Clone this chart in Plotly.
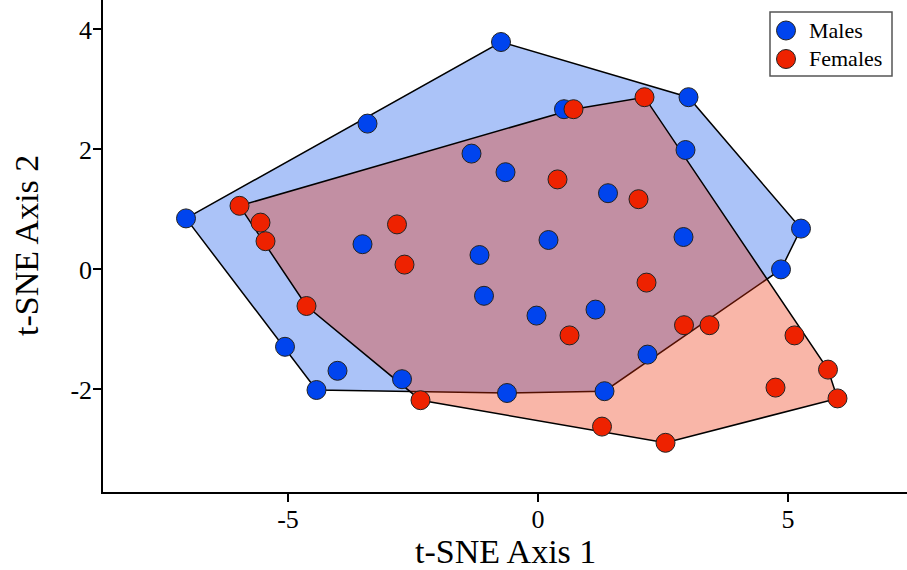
import plotly.graph_objects as go

# t-SNE coordinates
male_x = [-7.04, -3.41, -0.74, 3.01, 0.52, -1.33, -0.65, 1.40, 2.95, 2.91, 5.26, 4.86, -3.51,
          -1.17, 0.21, -1.08, -0.03, 1.15, 2.19, 1.33, -0.62, -2.72, -4.01, -4.43, -5.06]
male_y = [0.85, 2.43, 3.79, 2.87, 2.67, 1.93, 1.62, 1.27, 1.99, 0.54, 0.68, 0.00, 0.42,
          0.24, 0.49, -0.44, -0.77, -0.67, -1.42, -2.03, -2.06, -1.83, -1.69, -2.01, -1.29]
female_x = [-5.97, -5.55, -5.45, -2.82, -2.67, 0.71, 2.13, 0.39, 2.01, -4.63, -2.35, 2.17,
            0.63, 2.92, 3.43, 5.13, 5.80, 4.75, 5.99, 1.28, 2.55]
female_y = [1.06, 0.78, 0.47, 0.75, 0.08, 2.67, 2.87, 1.50, 1.17, -0.61, -2.18, -0.22,
            -1.10, -0.93, -0.93, -1.10, -1.67, -1.97, -2.15, -2.62, -2.89]

x_ticks = [-5, 0, 5]
y_ticks = [-2, 0, 2, 4]
legend_labels = ["Males", "Females"]


def convex_hull(xs, ys):
    pts = sorted(set(zip(xs, ys)))

    def cross(o, a, b):
        return (a[0] - o[0]) * (b[1] - o[1]) - (a[1] - o[1]) * (b[0] - o[0])

    lower, upper = [], []
    for p in pts:
        while len(lower) >= 2 and cross(lower[-2], lower[-1], p) <= 0:
            lower.pop()
        lower.append(p)
    for p in reversed(pts):
        while len(upper) >= 2 and cross(upper[-2], upper[-1], p) <= 0:
            upper.pop()
        upper.append(p)
    hull = lower[:-1] + upper[:-1]
    hull.append(hull[0])
    return [p[0] for p in hull], [p[1] for p in hull]


mhx, mhy = convex_hull(male_x, male_y)
fhx, fhy = convex_hull(female_x, female_y)

BLUE = "#0044EE"
RED = "#EE2200"
EDGE = "#222222"
FONT = "Liberation Serif"
W, H = 907, 570
ML, MR, MT, MB = 103, 0, 0, 78
PW, PH = W - ML - MR, H - MT - MB


def px(xp):
    return (xp - ML) / PW


def py(yp):
    return 1 - (yp - MT) / PH


fig = go.Figure()
fig.add_trace(go.Scatter(x=mhx, y=mhy, mode="lines", fill="toself",
                         fillcolor="rgba(15,84,235,0.35)",
                         line=dict(color="black", width=1.5), showlegend=False,
                         hoverinfo="skip"))
fig.add_trace(go.Scatter(x=fhx, y=fhy, mode="lines", fill="toself",
                         fillcolor="rgba(238,46,6,0.35)",
                         line=dict(color="black", width=1.5), showlegend=False,
                         hoverinfo="skip"))
fig.add_trace(go.Scatter(x=male_x, y=male_y, mode="markers", name=legend_labels[0],
                         showlegend=False,
                         marker=dict(color=BLUE, size=19, line=dict(color=EDGE, width=1))))
fig.add_trace(go.Scatter(x=female_x, y=female_y, mode="markers", name=legend_labels[1],
                         showlegend=False,
                         marker=dict(color=RED, size=19, line=dict(color=EDGE, width=1))))

# legend box drawn as shapes + text
shapes = [dict(type="rect", xref="paper", yref="paper",
               x0=px(770), x1=px(892), y0=py(76), y1=py(12),
               line=dict(color="#555555", width=1.5), fillcolor="white", layer="above")]
annotations = []
for i, (lab, col) in enumerate(zip(legend_labels, [BLUE, RED])):
    cy = 30.5 + i * 28.5
    shapes.append(dict(type="circle", xref="paper", yref="paper",
                       xsizemode="pixel", ysizemode="pixel",
                       xanchor=px(786), yanchor=py(cy),
                       x0=-9.5, x1=9.5, y0=-9.5, y1=9.5,
                       fillcolor=col, line=dict(color=EDGE, width=1), layer="above"))
    annotations.append(dict(text=lab, xref="paper", yref="paper", x=px(807), y=py(cy),
                            xanchor="left", yanchor="middle", showarrow=False,
                            font=dict(family=FONT, size=22, color="black")))

annotations += [
    dict(text="t-SNE Axis 1", xref="paper", yref="paper", x=0.5, y=0,
         xanchor="center", yanchor="middle", yshift=-59, showarrow=False,
         font=dict(family=FONT, size=34, color="black")),
    dict(text="t-SNE Axis 2", xref="paper", yref="paper", x=0, y=0.5,
         xanchor="center", yanchor="middle", xshift=-77, textangle=-90,
         showarrow=False, font=dict(family=FONT, size=34, color="black")),
]

fig.update_layout(
    width=W, height=H,
    margin=dict(l=ML, r=MR, t=MT, b=MB),
    paper_bgcolor="white", plot_bgcolor="white",
    font=dict(family=FONT, color="black"),
    showlegend=False,
    xaxis=dict(range=[-8.7, 7.38], tickvals=x_ticks, ticktext=[str(v) for v in x_ticks],
               showgrid=False, zeroline=False, showline=True, linecolor="black",
               linewidth=1.5, ticks="outside", ticklen=8, tickwidth=1.5,
               tickcolor="black", tickfont=dict(family=FONT, size=26),
               ticklabelstandoff=-5),
    yaxis=dict(range=[-3.71, 4.49], tickvals=y_ticks, ticktext=[str(v) for v in y_ticks],
               showgrid=False, zeroline=False, showline=True, linecolor="black",
               linewidth=1.5, ticks="outside", ticklen=8, tickwidth=1.5,
               tickcolor="black", tickfont=dict(family=FONT, size=26),
               ticklabelstandoff=-4),
    shapes=shapes,
    annotations=annotations,
)

fig.write_html("out.html", config={"displayModeBar": False},
               post_script="document.body.style.margin='0';")
